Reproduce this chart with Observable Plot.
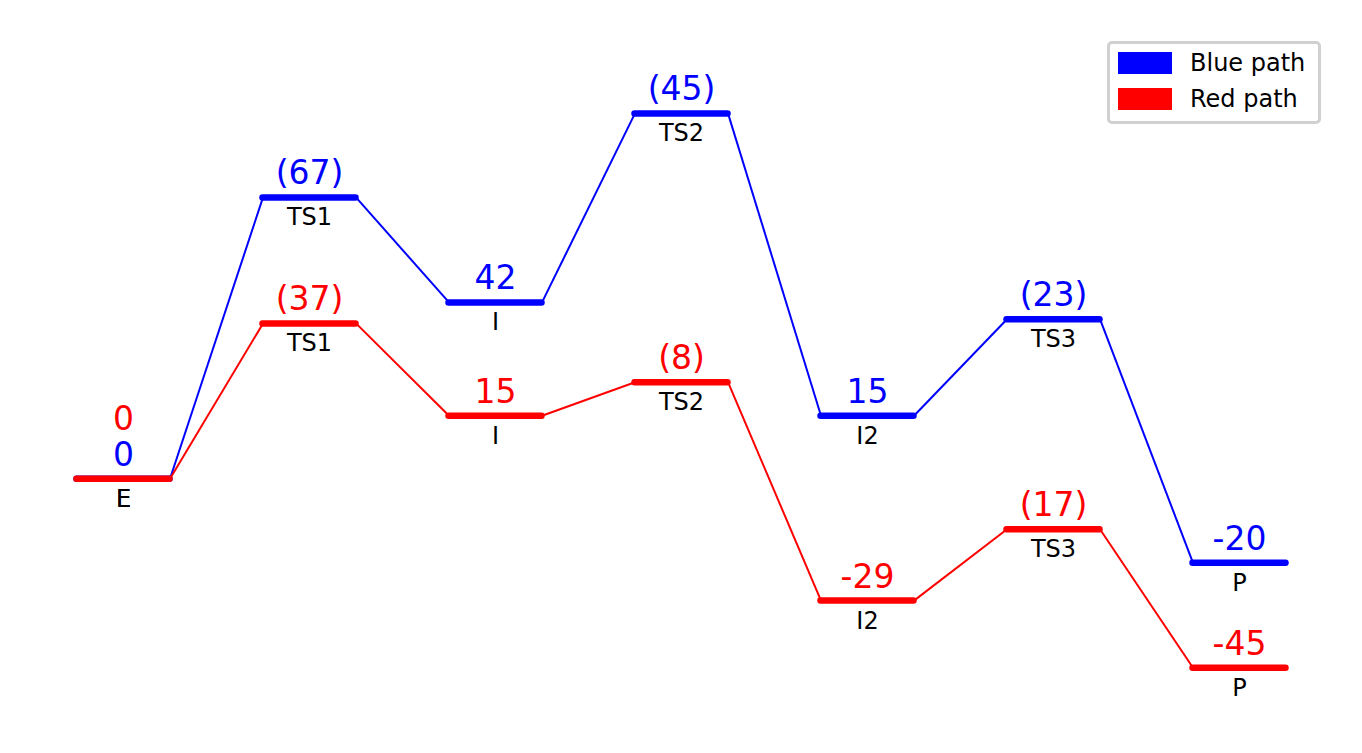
<!DOCTYPE html>
<html>
<head>
<meta charset="utf-8">
<script src="https://cdn.jsdelivr.net/npm/d3@7"></script>
<script src="https://cdn.jsdelivr.net/npm/@observablehq/plot@0.6"></script>
<style>
  html, body { margin: 0; padding: 0; background: #fff; }
  #wrap { position: relative; width: 1362px; height: 753px; font-family: "DejaVu Sans", sans-serif; }
  #legend {
    position: absolute; left: 1107px; top: 41px; width: 208px; height: 77px;
    border: 3px solid #d0d0d0; border-radius: 5px; background: rgba(255,255,255,0.8);
  }
  .item { position: absolute; left: 8px; height: 22px; display: flex; align-items: center; }
  .sw { width: 54px; height: 22px; }
  .lab { margin-left: 18px; font-size: 24px; color: #000; line-height: 22px; white-space: nowrap; }
</style>
</head>
<body>
<div id="wrap"></div>
<script>
const states = ["E", "TS1", "I", "TS2", "I2", "TS3", "P"];
const blueEnergy = [0, 67, 42, 87, 15, 38, -20];
const blueLabels = ["0", "(67)", "42", "(45)", "15", "(23)", "-20"];
const redEnergy = [0, 37, 15, 23, -29, -12, -45];
const redLabels = ["0", "(37)", "15", "(8)", "-29", "(17)", "-45"];
const seriesNames = ["Blue path", "Red path"];
const seriesColors = ["#0000ff", "#ff0000"];

const levelWidth = 0.5;
function buildLevels(energies, labels, color, series) {
  return energies.map((e, i) => ({ i, x1: i, x2: i + levelWidth, xc: i + levelWidth / 2, y: e, label: labels[i], state: states[i], color, series }));
}
function buildLinks(energies, color) {
  const out = [];
  for (let i = 0; i < energies.length - 1; i++) {
    out.push({ x1: i + levelWidth, y1: energies[i], x2: i + 1, y2: energies[i + 1], color });
  }
  return out;
}
const blueLevels = buildLevels(blueEnergy, blueLabels, seriesColors[0], "blue");
const redLevels = buildLevels(redEnergy, redLabels, seriesColors[1], "red");
const blueLinks = buildLinks(blueEnergy, seriesColors[0]);
const redLinks = buildLinks(redEnergy, seriesColors[1]);

const valueFont = 33, nameFont = 24;

function marksFor(levels, links, stackedFirst) {
  const normal = levels.filter(d => !(stackedFirst && d.i === 0));
  const stacked = levels.filter(d => stackedFirst && d.i === 0);
  return [
    Plot.link(links, { x1: "x1", y1: "y1", x2: "x2", y2: "y2", stroke: "color", strokeWidth: 2 }),
    Plot.ruleY(levels, { x1: "x1", x2: "x2", y: "y", stroke: "color", strokeWidth: 6.5, strokeLinecap: "round" }),
    Plot.text(normal, { x: "xc", y: "y", text: "label", fill: "color", fontSize: valueFont, lineAnchor: "bottom", dy: -13 }),
    Plot.text(stacked, { x: "xc", y: "y", text: "label", fill: "color", fontSize: valueFont, lineAnchor: "bottom", dy: -49 }),
    Plot.text(levels, { x: "xc", y: "y", text: "state", fill: "#000", fontSize: nameFont, lineAnchor: "top", dy: 11 })
  ];
}

const chart = Plot.plot({
  width: 1362,
  height: 753,
  style: { fontFamily: "DejaVu Sans, sans-serif", background: "#fff" },
  x: { type: "linear", domain: [0, 6.5], range: [76.5, 1285.5], axis: null },
  y: { type: "linear", domain: [-45, 87], range: [667.3, 112.9], axis: null },
  marks: [
    ...marksFor(blueLevels, blueLinks, false),
    ...marksFor(redLevels, redLinks, true)
  ]
});
const wrap = document.getElementById("wrap");
wrap.appendChild(chart);

const legend = document.createElement("div");
legend.id = "legend";
seriesNames.forEach((name, k) => {
  const item = document.createElement("div");
  item.className = "item";
  item.style.top = (8 + k * 36) + "px";
  const sw = document.createElement("div");
  sw.className = "sw";
  sw.style.background = seriesColors[k];
  const lab = document.createElement("span");
  lab.className = "lab";
  lab.textContent = name;
  item.appendChild(sw);
  item.appendChild(lab);
  legend.appendChild(item);
});
wrap.appendChild(legend);
</script>
</body>
</html>
